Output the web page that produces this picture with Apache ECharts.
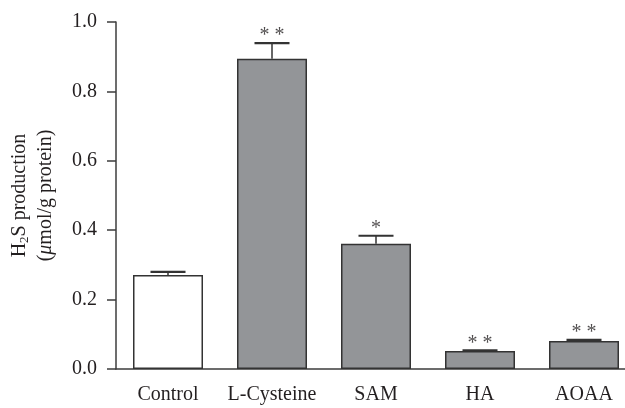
<!DOCTYPE html>
<html>
<head>
<meta charset="utf-8">
<script src="https://cdn.jsdelivr.net/npm/echarts@6/dist/echarts.min.js"></script>
<style>html,body{margin:0;padding:0;background:#fff;}#c{width:625px;height:408px;}</style>
</head>
<body>
<div id="c"></div>
<script>
var categories = ['Control', 'L-Cysteine', 'SAM', 'HA', 'AOAA'];
var means = [0.271, 0.894, 0.361, 0.052, 0.081];
var errors = [0.009, 0.045, 0.023, 0.002, 0.003];
var significance = ['', '* *', '*', '* *', '* *'];

var FONT = '"Liberation Serif", "DejaVu Serif", serif';
var INK = '#231f20';
var AXIS = '#3c3c3c';

var chart = echarts.init(document.getElementById('c'));

var barData = means.map(function (v, i) {
  return {
    value: v,
    itemStyle: { color: i === 0 ? '#ffffff' : '#939598' }
  };
});
var errData = means.map(function (v, i) { return [i, v, errors[i]]; });
var sigData = means.map(function (v, i) { return { value: [i, v + errors[i]], sig: significance[i] }; });

chart.setOption({
  animation: false,
  backgroundColor: '#ffffff',
  grid: { left: 116, right: -11, top: 22, bottom: 39, containLabel: false, outerBoundsMode: 'none' },
  xAxis: {
    type: 'category',
    data: categories,
    axisLine: { lineStyle: { color: AXIS, width: 1.5 } },
    axisTick: { alignWithLabel: true, interval: 0, length: 9, lineStyle: { color: AXIS, width: 1.5 } },
    axisLabel: { color: INK, fontFamily: FONT, fontSize: 20, margin: 16, interval: 0, hideOverlap: false }
  },
  yAxis: {
    type: 'value',
    min: 0, max: 1, interval: 0.2,
    name: '{a|H}{s|2}{a|S production}\n{a|(}{i|μ}{a|mol/g protein)}',
    nameLocation: 'middle',
    nameGap: 57,
    nameTextStyle: {
      color: INK, fontFamily: FONT, fontSize: 20, lineHeight: 26,
      rich: {
        a: { fontFamily: FONT, fontSize: 20, color: INK },
        s: { fontFamily: FONT, fontSize: 13, color: INK, padding: [10, 0, 0, 0] },
        i: { fontFamily: FONT, fontSize: 20, color: INK, fontStyle: 'italic' }
      }
    },
    axisLine: { show: true, lineStyle: { color: AXIS, width: 1.5 } },
    axisTick: { show: true, length: 9, lineStyle: { color: AXIS, width: 1.5 } },
    splitLine: { show: false },
    axisLabel: {
      color: INK, fontFamily: FONT, fontSize: 20, margin: 19,
      formatter: function (v) { return v.toFixed(1); }
    }
  },
  series: [
    {
      type: 'bar',
      data: barData,
      barWidth: 70,
      itemStyle: { borderColor: '#333333', borderWidth: 1.5 },
      z: 2
    },
    {
      type: 'custom',
      data: errData,
      z: 3,
      renderItem: function (params, api) {
        var base = api.coord([api.value(0), api.value(1)]);
        var top = api.coord([api.value(0), api.value(1) + api.value(2)]);
        var half = 17.5;
        return {
          type: 'group',
          children: [
            { type: 'line', shape: { x1: base[0], y1: base[1], x2: top[0], y2: top[1] }, style: { stroke: '#333333', lineWidth: 1.5 } },
            { type: 'line', shape: { x1: top[0] - half, y1: top[1], x2: top[0] + half, y2: top[1] }, style: { stroke: '#333333', lineWidth: 2.2 } }
          ]
        };
      }
    },
    {
      type: 'scatter',
      data: sigData,
      symbolSize: 0,
      z: 4,
      label: {
        show: true,
        position: 'top',
        distance: -3,
        color: INK,
        fontFamily: FONT,
        fontSize: 20,
        formatter: function (p) { return p.data.sig; }
      }
    }
  ]
});
</script>
</body>
</html>
